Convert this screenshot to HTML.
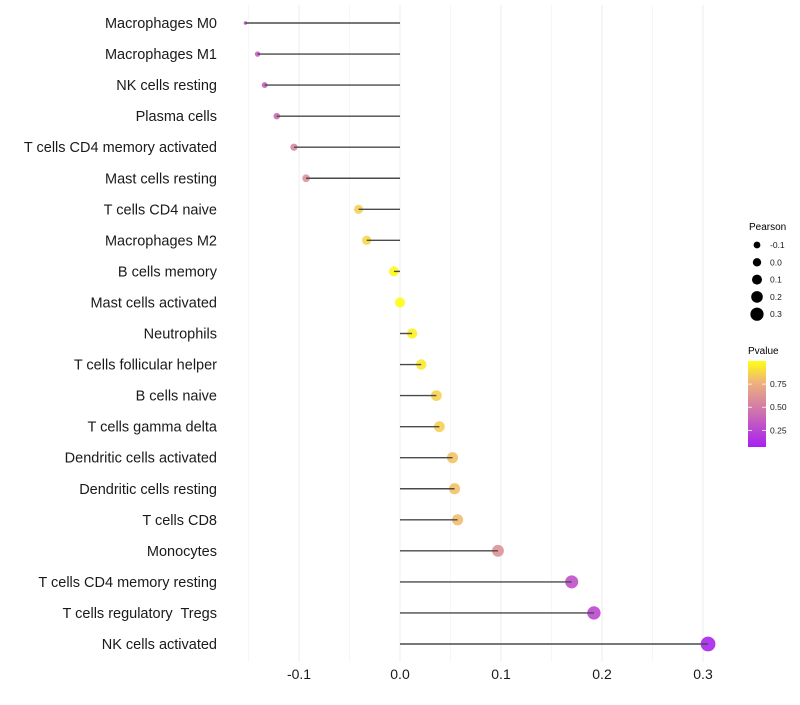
<!DOCTYPE html>
<html><head><meta charset="utf-8">
<style>
body{margin:0;background:#fff;font-family:"Liberation Sans",sans-serif;}
svg text{font-family:"Liberation Sans",sans-serif;white-space:pre;}
</style></head>
<body>
<svg id="chart" width="800" height="700" xmlns="http://www.w3.org/2000/svg">
<defs>
<linearGradient id="pg" x1="0" y1="1" x2="0" y2="0">
<stop offset="0" stop-color="#a71ff2"/>
<stop offset="0.45" stop-color="#d27aa8"/>
<stop offset="0.75" stop-color="#eeb27c"/>
<stop offset="1" stop-color="#ffff10"/>
</linearGradient>
</defs>
<g id="grid"></g>
<g id="dots"></g>
<g id="marks"></g>
<g id="ylabels"></g>
<g id="xlabels"></g>
<g>
<text x="749" y="230" font-size="10">Pearson</text>
<g id="sizeLegend"></g>
</g>
<g>
<text x="748" y="354" font-size="10">Pvalue</text>
<rect x="748" y="361" width="18" height="86" fill="url(#pg)"/>
<g id="colorLegend"></g>
</g>
</svg>
<script>
const categories=["Macrophages M0","Macrophages M1","NK cells resting","Plasma cells","T cells CD4 memory activated","Mast cells resting","T cells CD4 naive","Macrophages M2","B cells memory","Mast cells activated","Neutrophils","T cells follicular helper","B cells naive","T cells gamma delta","Dendritic cells activated","Dendritic cells resting","T cells CD8","Monocytes","T cells CD4 memory resting","T cells regulatory  Tregs","NK cells activated"];
const pearson=[-0.153,-0.141,-0.134,-0.122,-0.105,-0.093,-0.041,-0.033,-0.006,0.0,0.012,0.021,0.036,0.039,0.052,0.054,0.057,0.097,0.170,0.192,0.305];
const pvalue=[0.30,0.36,0.38,0.42,0.55,0.60,0.85,0.87,0.98,0.99,0.96,0.93,0.86,0.85,0.81,0.80,0.79,0.60,0.30,0.26,0.10];
const xTicks=[-0.1,0.0,0.1,0.2,0.3];
const xTickLabels=["-0.1","0.0","0.1","0.2","0.3"];
const sizeBreaks=[-0.1,0.0,0.1,0.2,0.3];
const colorBreaks=[0.75,0.50,0.25];

const NS="http://www.w3.org/2000/svg";
const x=v=>400+v*1010;
const y=i=>23+i*31.05;
const r=v=>1.8+5.6*Math.sqrt(Math.max(0,(v+0.153)/0.458));
const rl=v=>3.4+(v+0.1)*8;
const pTop=361,pBot=447,pMin=0.07,pMax=1.0;
const py=p=>pBot-(p-pMin)/(pMax-pMin)*(pBot-pTop);
const stops=[[0,[167,31,242]],[0.45,[210,122,168]],[0.75,[240,182,120]],[1,[255,255,16]]];
function col(p){
  let t=(p-pMin)/(pMax-pMin);t=Math.max(0,Math.min(1,t));
  for(let k=0;k<stops.length-1;k++){
    const[a,ca]=stops[k],[b,cb]=stops[k+1];
    if(t<=b){const f=(t-a)/(b-a);return `rgb(${ca.map((c,j)=>Math.round(c+(cb[j]-c)*f)).join(",")})`;}
  }
  return "rgb(255,255,16)";
}
function mk(tag,attrs,parent){const e=document.createElementNS(NS,tag);for(const k in attrs)e.setAttribute(k,attrs[k]);parent.appendChild(e);return e;}

const grid=document.getElementById("grid");
for(let v=-0.15;v<=0.301;v+=0.05){
  const major=Math.abs(Math.round(v*20)%2)===0;
  const l=mk("line",{x1:x(v),x2:x(v),y1:5,y2:662,stroke:major?"#ececec":"#f4f4f4","stroke-width":major?1:0.8},grid);
  
  
}
const marks=document.getElementById("marks"),dots=document.getElementById("dots"),yl=document.getElementById("ylabels");
categories.forEach((c,i)=>{
  const d=mk("circle",{cx:x(pearson[i]),cy:y(i),r:r(pearson[i]),fill:col(pvalue[i]),opacity:0.9},dots);
  
  
  const ln=mk("line",{x1:x(0),x2:x(pearson[i]),y1:y(i),y2:y(i),stroke:"#4a4a4a","stroke-width":1.4},marks);
  
  
  const t=mk("text",{x:217,y:y(i)+5,"text-anchor":"end","font-size":14.5,fill:"#1a1a1a"},yl);
  t.textContent=c;
  
  
});
const xl=document.getElementById("xlabels");
xTicks.forEach((v,i)=>{
  const t=mk("text",{x:x(v),y:679,"text-anchor":"middle","font-size":14,fill:"#1a1a1a"},xl);
  t.textContent=xTickLabels[i];
  
  
});
const sl=document.getElementById("sizeLegend");
sizeBreaks.forEach((v,i)=>{
  const cy=245+i*17.3;
  const c=mk("circle",{cx:757,cy:cy,r:rl(v),fill:"#000"},sl);
  
  
  const t=mk("text",{x:770,y:cy+3,"font-size":8.5,fill:"#1a1a1a"},sl);
  t.textContent=v.toFixed(1);
  
  
});
const cl=document.getElementById("colorLegend");
colorBreaks.forEach(v=>{
  const yy=py(v);
  const a=mk("line",{x1:748,x2:752,y1:yy,y2:yy,stroke:"#fff","stroke-width":0.8},cl);
  
  
  const b=mk("line",{x1:762,x2:766,y1:yy,y2:yy,stroke:"#fff","stroke-width":0.8},cl);
  
  
  const t=mk("text",{x:770,y:yy+3,"font-size":8.5,fill:"#1a1a1a"},cl);
  t.textContent=v.toFixed(2);
  
  
});
</script>
</body></html>
